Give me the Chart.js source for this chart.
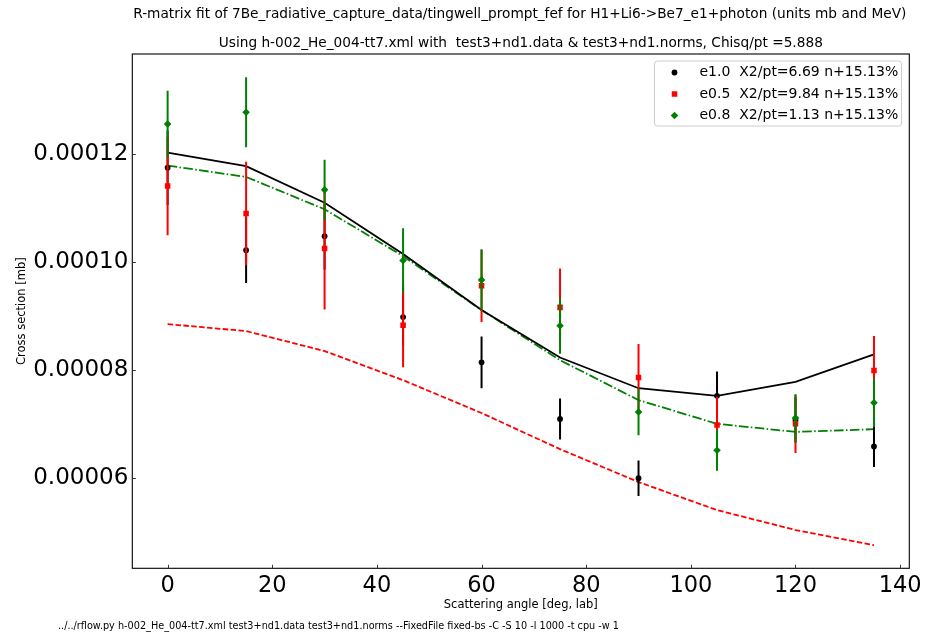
<!DOCTYPE html>
<html>
<head>
<meta charset="utf-8">
<script src="https://cdn.jsdelivr.net/npm/chart.js@4.4.1/dist/chart.umd.min.js"></script>
<style>
  html, body { margin: 0; padding: 0; background: #fff; }
  #wrap { width: 933px; height: 635px; }
</style>
</head>
<body>
<div id="wrap"><canvas id="fit" width="933" height="635"></canvas></div>

<script>
  // scattering angles (deg, lab)
  const angles = [0, 15, 30, 45, 60, 75, 90, 105, 120, 135];

  // R-matrix fit curves
  const fitE10 = [0.0001203, 0.0001178, 0.000111, 0.0001015, 0.0000911, 0.0000823, 0.0000766, 0.0000752, 0.0000778, 0.0000829];
  const fitE05 = [0.0000885, 0.0000872, 0.0000835, 0.0000781, 0.000072, 0.0000653, 0.0000592, 0.000054, 0.0000503, 0.0000475];
  const fitE08 = [0.0001179, 0.0001158, 0.0001098, 0.0001011, 0.0000911, 0.0000818, 0.0000744, 0.00007, 0.0000685, 0.000069];

  // measured points and their errors
  const dataE10 = [0.0001175, 0.0001022, 0.0001048, 0.0000898, 0.0000814, 0.0000709, 0.0000599, 0.0000752, 0.0000707, 0.0000658];
  const errE10 = [0.0000069, 0.0000061, 0.0000062, 0.0000053, 0.0000048, 0.0000038, 0.0000033, 0.0000045, 0.0000042, 0.0000038];
  const dataE05 = [0.0001141, 0.000109, 0.0001025, 0.0000883, 0.0000956, 0.0000916, 0.0000786, 0.0000698, 0.00007, 0.0000799];
  const errE05 = [0.0000091, 0.0000096, 0.0000113, 0.0000078, 0.0000067, 0.0000072, 0.0000062, 0.0000052, 0.0000054, 0.0000064];
  const dataE08 = [0.0001256, 0.0001278, 0.0001134, 0.0001003, 0.0000967, 0.0000882, 0.0000722, 0.0000651, 0.0000711, 0.0000739];
  const errE08 = [0.0000062, 0.0000065, 0.0000056, 0.000006, 0.0000057, 0.0000052, 0.0000043, 0.0000038, 0.0000044, 0.0000045];

  const seriesLabels = [
    "e1.0  X2/pt=6.69 n+15.13%",
    "e0.5  X2/pt=9.84 n+15.13%",
    "e0.8  X2/pt=1.13 n+15.13%",
  ];

  const xTickValues = [0, 20, 40, 60, 80, 100, 120, 140];
  const yTickValues = [0.00006, 0.00008, 0.0001, 0.00012];

  const titleLines = [
    "R-matrix fit of 7Be_radiative_capture_data/tingwell_prompt_fef for H1+Li6->Be7_e1+photon (units mb and MeV)",
    "Using h-002_He_004-tt7.xml with  test3+nd1.data & test3+nd1.norms, Chisq/pt =5.888",
  ];
  const commandLine = "../../rflow.py h-002_He_004-tt7.xml test3+nd1.data test3+nd1.norms --FixedFile fixed-bs -C -S 10 -l 1000 -t cpu -w 1";

  const FONT = "'DejaVu Sans', sans-serif";
  const BLACK = "#000000", RED = "#ff0000", GREEN = "#008000";

  const pts = (ys) => angles.map((a, i) => ({ x: a, y: ys[i] }));

  function fitSet(ys, color, dash, order) {
    return {
      data: pts(ys), showLine: true, borderColor: color, borderWidth: 1.8,
      borderDash: dash, pointRadius: 0, fill: false, order: order,
    };
  }
  function dataSet(ys, errs, color, style, radius, label, order) {
    return {
      data: pts(ys), errors: errs, legendLabel: label, showLine: false,
      pointStyle: style, pointRadius: radius, backgroundColor: color,
      borderColor: color, borderWidth: 0, order: order,
    };
  }

  // error bars, legend box, frame, ticks and the free text
  const decorations = {
    id: "decorations",
    beforeDatasetDraw(chart, args) {
      const ds = chart.data.datasets[args.index];
      if (!ds.errors) return;
      const { ctx, chartArea: a, scales: { x, y } } = chart;
      ctx.save();
      ctx.beginPath();
      ctx.rect(a.left, a.top, a.right - a.left, a.bottom - a.top);
      ctx.clip();
      ctx.strokeStyle = ds.borderColor;
      ctx.lineWidth = 2;
      ds.data.forEach((p, i) => {
        const px = x.getPixelForValue(p.x);
        ctx.beginPath();
        ctx.moveTo(px, y.getPixelForValue(p.y - ds.errors[i]));
        ctx.lineTo(px, y.getPixelForValue(p.y + ds.errors[i]));
        ctx.stroke();
      });
      ctx.restore();
    },
    afterDraw(chart) {
      const { ctx, chartArea: a, scales: { x, y } } = chart;
      ctx.save();

      // frame and inward ticks
      ctx.strokeStyle = "#000";
      ctx.lineWidth = 1.1;
      ctx.strokeRect(a.left, a.top, a.right - a.left, a.bottom - a.top);
      ctx.lineWidth = 1;
      ctx.strokeStyle = "#333";
      x.ticks.forEach((t) => {
        const px = Math.round(x.getPixelForValue(t.value)) + 0.5;
        ctx.beginPath();
        ctx.moveTo(px, a.bottom);
        ctx.lineTo(px, a.bottom - 3.5);
        ctx.stroke();
      });
      y.ticks.forEach((t) => {
        const py = Math.round(y.getPixelForValue(t.value)) + 0.5;
        ctx.beginPath();
        ctx.moveTo(a.left, py);
        ctx.lineTo(a.left + 3.5, py);
        ctx.stroke();
      });

      // titles above the axes
      const cx = (a.left + a.right) / 2;
      ctx.fillStyle = "#000";
      ctx.textAlign = "center";
      ctx.textBaseline = "middle";
      ctx.font = "13.7px " + FONT;
      ctx.fillText(titleLines[0], cx - 1, 14.5);
      ctx.fillText(titleLines[1], cx, 43);

      // command line at the foot
      ctx.textAlign = "left";
      ctx.font = "9.7px " + FONT;
      ctx.fillText(commandLine, 58, 626);

      // legend
      const bx = 654.5, by = 61, bw = 247, bh = 65;
      ctx.fillStyle = "rgba(255,255,255,0.8)";
      ctx.strokeStyle = "#cccccc";
      ctx.lineWidth = 1;
      ctx.beginPath();
      ctx.roundRect(bx, by, bw, bh, 3);
      ctx.fill();
      ctx.stroke();
      ctx.font = "14px " + FONT;
      ctx.textBaseline = "middle";
      const entries = chart.data.datasets.filter((d) => d.legendLabel);
      entries.forEach((d, i) => {
        const ry = 72.5 + i * 21.5;
        const mx = 674.5;
        ctx.fillStyle = d.backgroundColor;
        ctx.beginPath();
        if (d.pointStyle === "circle") {
          ctx.arc(mx, ry, d.pointRadius, 0, Math.PI * 2);
        } else if (d.pointStyle === "rect") {
          const s = d.pointRadius * Math.SQRT1_2;
          ctx.rect(mx - s, ry - s, 2 * s, 2 * s);
        } else {
          const r = d.pointRadius;
          ctx.moveTo(mx, ry - r);
          ctx.lineTo(mx + r, ry);
          ctx.lineTo(mx, ry + r);
          ctx.lineTo(mx - r, ry);
          ctx.closePath();
        }
        ctx.fill();
        ctx.fillStyle = "#000";
        ctx.fillText(d.legendLabel, 699.5, ry);
      });
      ctx.restore();
    },
  };

  new Chart(document.getElementById("fit"), {
    type: "scatter",
    data: {
      datasets: [
        dataSet(dataE10, errE10, BLACK, "circle", 2.9, seriesLabels[0], 2),
        dataSet(dataE05, errE05, RED, "rect", 3.9, seriesLabels[1], 1),
        dataSet(dataE08, errE08, GREEN, "rectRot", 3.8, seriesLabels[2], 0),
        fitSet(fitE10, BLACK, [], 3),
        fitSet(fitE05, RED, [5.5, 2.4], 4),
        fitSet(fitE08, GREEN, [9.6, 2.4, 1.5, 2.4], 5),
      ],
    },
    options: {
      responsive: false,
      animation: false,
      devicePixelRatio: 1,
      layout: { padding: { top: 54, right: 23.7, bottom: 20, left: 0 } },
      plugins: {
        legend: { display: false },
        title: { display: false },
        tooltip: { enabled: false },
      },
      elements: { line: { tension: 0 } },
      scales: {
        x: {
          type: "linear",
          min: -6.75,
          max: 141.75,
          grid: { display: false, drawTicks: false },
          border: { display: false },
          afterBuildTicks: (s) => { s.ticks = xTickValues.map((v) => ({ value: v })); },
          afterFit: (s) => { s.height = 46.7; },
          ticks: {
            color: "#000", padding: 4, maxRotation: 0,
            font: { family: FONT, size: 22.5 },
            callback: (v) => String(v),
          },
          title: {
            display: true, text: "Scattering angle [deg, lab]", color: "#000",
            font: { family: FONT, size: 11.5 }, padding: { top: 0, bottom: 3 },
          },
        },
        y: {
          type: "linear",
          min: 0.0000432,
          max: 0.0001386,
          grid: { display: false, drawTicks: false },
          border: { display: false },
          afterBuildTicks: (s) => { s.ticks = yTickValues.map((v) => ({ value: v })); },
          afterFit: (s) => { s.width = 132.3; },
          ticks: {
            color: "#000", padding: 4,
            font: { family: FONT, size: 23 },
            callback: (v) => Number(v).toFixed(5),
          },
          title: {
            display: true, text: "Cross section [mb]", color: "#000",
            font: { family: FONT, size: 11.5 }, padding: { top: 14.8, bottom: 0 },
          },
        },
      },
    },
    plugins: [decorations],
  });
</script>
</body>
</html>
